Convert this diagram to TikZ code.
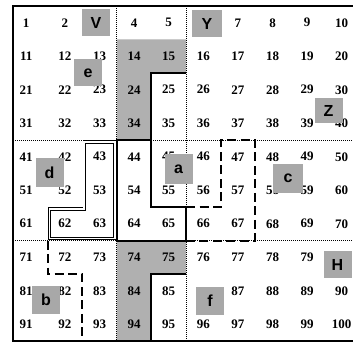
\documentclass[tikz,border=0pt]{standalone}
\usepackage{fontspec}
\setmainfont{Liberation Serif}
\newfontfamily\lettfont{Liberation Sans}
\usetikzlibrary{calc}
\begin{document}
\begin{tikzpicture}[x=1pt,y=-1pt,
  numtxt/.style={font=\fontsize{13}{13}\selectfont\bfseries, inner sep=0pt},
  letbox/.style={fill=gray!68, minimum width=28pt, minimum height=27pt, inner sep=0pt, font=\lettfont\fontsize{16}{16}\selectfont\bfseries},
  grayreg/.style={fill=gray!62},
  dotline/.style={line width=0.8pt, dash pattern=on 0.9pt off 1.1pt},
  thickline/.style={line width=2pt, line join=miter},
  dashline/.style={line width=2pt, dash pattern=on 9pt off 4.5pt},
  dblline/.style={double, double distance=1.6pt, line width=0.8pt},
  border/.style={line width=1.8pt}]
\path[use as bounding box] (0,0) rectangle (353,342);
\clip (0,0) rectangle (353,342);
\fill[white] (0,0) rectangle (353,342);
\begin{scope}[shift={(13,6)}, x=34.6pt, y=-33.5pt]
  % gray L regions
  \fill[grayreg] (3,1) -- (5,1) -- (5,2) -- (4,2) -- (4,4) -- (3,4) -- cycle;
  \fill[grayreg] (3,7) -- (5,7) -- (5,8) -- (4,8) -- (4,10) -- (3,10) -- cycle;
  % dotted dividers
  \draw[dotline] (3,0) -- (3,4);
  \draw[dotline] (5,0) -- (5,10);
  \draw[dotline] (0,4) -- (10,4);
  \draw[dotline] (0,7) -- (10,7);
  \draw[dotline] (3,7) -- (3,10);
  % thick outlines
  \draw[thickline] (5,2) -- (4,2) -- (4,4);
  \draw[thickline] (5,8) -- (4,8) -- (4,10);
  \draw[thickline] (3,4) -- (4,4) -- (4,6) -- (5,6) -- (5,7) -- (3,7) -- cycle;
  % double outline
  \draw[dblline] ($(2,4)+(2pt,-2pt)$) -- ($(3,4)+(-2pt,-2pt)$) -- ($(3,7)+(-2pt,2pt)$)
     -- ($(1,7)+(2pt,2pt)$) -- ($(1,6)+(2pt,-2pt)$) -- ($(2,6)+(2pt,-2pt)$) -- cycle;
  % dashed outlines
  \draw[dashline] (5,6) -- (6,6) -- (6,4) -- (7,4) -- (7,7) -- (5,7);
  \draw[dashline] (1,7) -- (1,8) -- (2,8) -- (2,10);
  % border
  \draw[border] (0,0) rectangle (10,10);
  % numbers
  \foreach \n in {1,2,4,5,7,8,...,79,81,82,...,85,87,88,...,100} {
    \pgfmathtruncatemacro\r{(\n-1)/10}
    \pgfmathtruncatemacro\c{\n-1-10*\r}
    \pgfmathsetmacro\dx{ifthenelse(\c==0,-0.12,0)}
    \node[numtxt] (n\n) at (\c+0.5+\dx,\r+0.5) {\n};
  }
\end{scope}
% lettered gray boxes
\node[letbox] (bV) at (96,22.5) {V};
\node[letbox] (be) at (88,73) {e};
\node[letbox, minimum width=30pt] (bY) at (207,23.5) {Y};
\node[letbox, minimum height=25pt] (bZ) at (328.5,110.5) {Z};
\node[letbox, minimum height=30pt] (ba) at (178.5,169) {a};
\node[letbox, minimum height=29pt] (bd) at (49.5,172.5) {d};
\node[letbox, minimum width=30pt, minimum height=29pt] (bc) at (288,178) {c};
\node[letbox] (bH) at (337.5,264.5) {H};
\node[letbox, minimum height=28pt] (bb) at (46,300) {b};
\node[letbox, minimum height=28pt] (bf) at (210,301) {f};
\end{tikzpicture}
\end{document}
